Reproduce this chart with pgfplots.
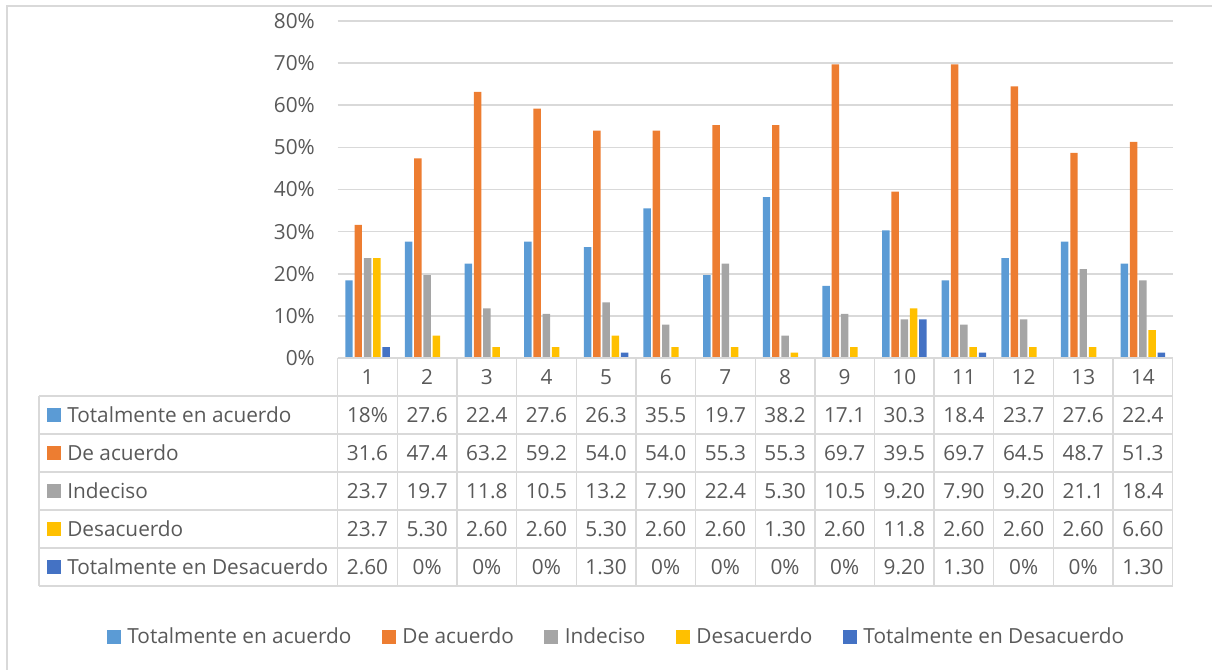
\documentclass[border=0pt]{standalone}
\usepackage{pgfplots}
\pgfplotsset{compat=1.18}
\usepackage{fontspec}
\setmainfont{Open Sans}
\definecolor{cA}{HTML}{5B9BD5}
\definecolor{cB}{HTML}{ED7D31}
\definecolor{cC}{HTML}{A5A5A5}
\definecolor{cD}{HTML}{FFC000}
\definecolor{cE}{HTML}{4472C4}
\definecolor{txt}{HTML}{595959}
\definecolor{grd}{HTML}{D9D9D9}
\newcommand{\tfont}{\fontsize{15.6}{18}\selectfont}
\begin{document}
\begin{tikzpicture}
\path[use as bounding box] (0,0) rectangle (909pt,-502.5pt);
\begin{scope}[x=0.75pt,y=-0.75pt]
\draw[grd,line width=1pt] (7,672) -- (7,6) -- (1214,6);
\end{scope}
\begin{axis}[
  at={(253.275pt,-268.5pt)}, anchor=south west,
  width=626.25pt, height=252.75pt, scale only axis,
  xmin=0.5, xmax=14.5, ymin=0, ymax=80,
  axis line style={draw=none},
  major tick length=0pt,
  xtick=\empty,
  ytick={0,10,...,80},
  ymajorgrids,
  grid style={grd, line width=1.3pt},
  yticklabel={\pgfmathparse{int(\tick)}\pgfmathresult\%},
  yticklabel style={anchor=east, inner sep=0pt, xshift=-17pt, font=\tfont, text=txt},
  ybar=1.35pt, bar width=5.6pt,
  legend columns=5,
  legend style={at={(0.3343,-0.828)}, anchor=center, draw=none, fill=none,
    font=\tfont, text=txt,
    /tikz/every even column/.append style={column sep=20.7pt},
    /tikz/every odd column/.append style={column sep=3pt},
    nodes={inner sep=2pt}},
  legend image code/.code={\fill[#1] (0pt,-5.25pt) rectangle (10.5pt,5.25pt);},
]
\addplot[fill=cA,draw=none] coordinates {(1,18.4)(2,27.6)(3,22.4)(4,27.6)(5,26.3)(6,35.5)(7,19.7)(8,38.2)(9,17.1)(10,30.3)(11,18.4)(12,23.7)(13,27.6)(14,22.4)};
\addplot[fill=cB,draw=none] coordinates {(1,31.6)(2,47.4)(3,63.2)(4,59.2)(5,54.0)(6,54.0)(7,55.3)(8,55.3)(9,69.7)(10,39.5)(11,69.7)(12,64.5)(13,48.7)(14,51.3)};
\addplot[fill=cC,draw=none] coordinates {(1,23.7)(2,19.7)(3,11.8)(4,10.5)(5,13.2)(6,7.9)(7,22.4)(8,5.3)(9,10.5)(10,9.2)(11,7.9)(12,9.2)(13,21.1)(14,18.4)};
\addplot[fill=cD,draw=none] coordinates {(1,23.7)(2,5.3)(3,2.6)(4,2.6)(5,5.3)(6,2.6)(7,2.6)(8,1.3)(9,2.6)(10,11.8)(11,2.6)(12,2.6)(13,2.6)(14,6.6)};
\addplot[fill=cE,draw=none] coordinates {(1,2.6)(2,0)(3,0)(4,0)(5,1.3)(6,0)(7,0)(8,0)(9,0)(10,9.2)(11,1.3)(12,0)(13,0)(14,1.3)};
\legend{Totalmente en acuerdo, De acuerdo, Indeciso, Desacuerdo, Totalmente en Desacuerdo}
\end{axis}
\begin{scope}[x=0.75pt,y=-0.75pt]
\def\xl{39}\def\xa{337.7}\def\xr{1172.7}\def\cw{59.643}
\draw[grd,line width=1pt] (\xa,358) -- (\xr,358);
\foreach \yy in {396,434,472,510,548,586} \draw[grd,line width=1pt] (\xl,\yy) -- (\xr,\yy);
\draw[grd,line width=1pt] (\xl,396) -- (\xl,586);
\foreach \k in {0,...,14} \draw[grd,line width=1pt] (\xa+\k*\cw,358) -- (\xa+\k*\cw,586);
\foreach \k in {1,...,14} \node[anchor=base,inner sep=0pt,font=\tfont,text=txt] at (\xa+\k*\cw-0.5*\cw,384) {\k};
% row labels
\foreach \c/\lab [count=\r] in {cA/Totalmente en acuerdo, cB/De acuerdo, cC/Indeciso, cD/Desacuerdo, cE/Totalmente en Desacuerdo} {
  \fill[\c] (47,396+38*\r-38+12) rectangle (61,396+38*\r-38+26);
  \node[anchor=base west,inner sep=0pt,font=\tfont,text=txt] at (67,396+38*\r-38+26) {\lab};
}
\foreach \v [count=\k] in {18\%,27.6,22.4,27.6,26.3,35.5,19.7,38.2,17.1,30.3,18.4,23.7,27.6,22.4}
  \node[anchor=base,inner sep=0pt,font=\tfont,text=txt] at (\xa+\k*\cw-0.5*\cw,422) {\v};
\foreach \v [count=\k] in {31.6,47.4,63.2,59.2,54.0,54.0,55.3,55.3,69.7,39.5,69.7,64.5,48.7,51.3}
  \node[anchor=base,inner sep=0pt,font=\tfont,text=txt] at (\xa+\k*\cw-0.5*\cw,460) {\v};
\foreach \v [count=\k] in {23.7,19.7,11.8,10.5,13.2,7.90,22.4,5.30,10.5,9.20,7.90,9.20,21.1,18.4}
  \node[anchor=base,inner sep=0pt,font=\tfont,text=txt] at (\xa+\k*\cw-0.5*\cw,498) {\v};
\foreach \v [count=\k] in {23.7,5.30,2.60,2.60,5.30,2.60,2.60,1.30,2.60,11.8,2.60,2.60,2.60,6.60}
  \node[anchor=base,inner sep=0pt,font=\tfont,text=txt] at (\xa+\k*\cw-0.5*\cw,536) {\v};
\foreach \v [count=\k] in {2.60,0\%,0\%,0\%,1.30,0\%,0\%,0\%,0\%,9.20,1.30,0\%,0\%,1.30}
  \node[anchor=base,inner sep=0pt,font=\tfont,text=txt] at (\xa+\k*\cw-0.5*\cw,574) {\v};
\end{scope}
\end{tikzpicture}
\end{document}
